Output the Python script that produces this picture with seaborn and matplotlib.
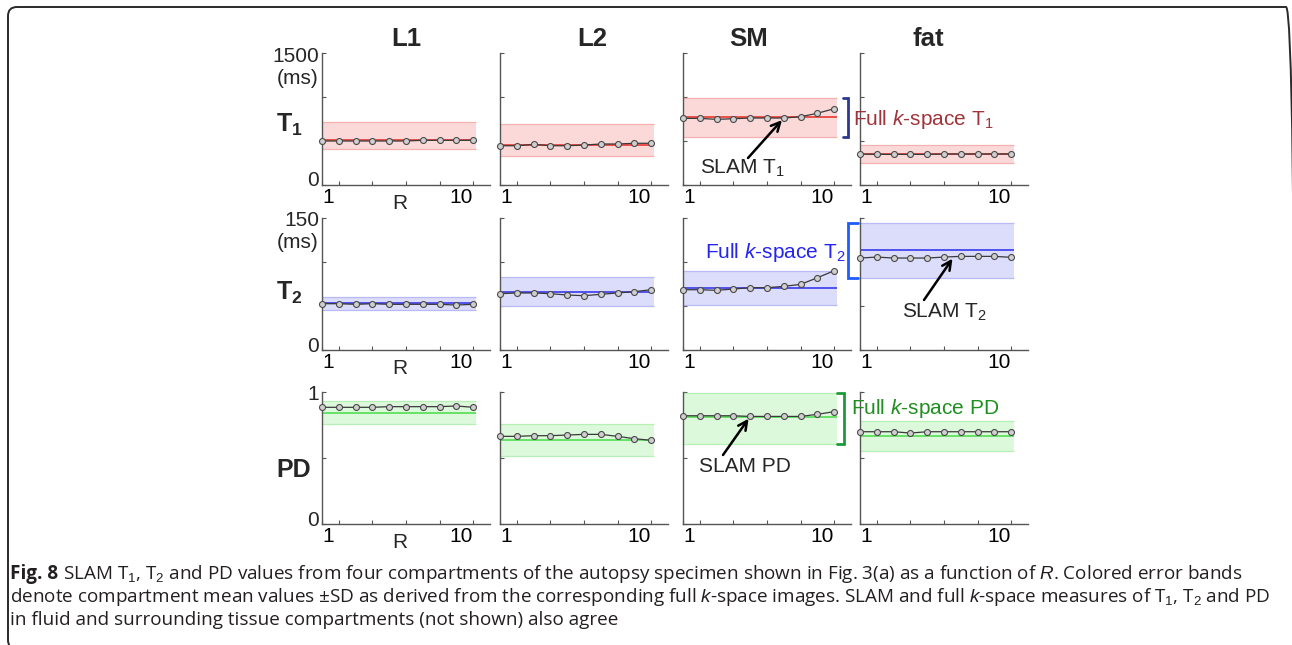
import matplotlib
matplotlib.use("Agg")
import matplotlib.pyplot as plt
import matplotlib.transforms as mtransforms
from matplotlib.lines import Line2D
from matplotlib.patches import FancyBboxPatch
import numpy as np
import pandas as pd
import seaborn as sns

# ---------------- data ----------------
compartments = ["L1", "L2", "SM", "fat"]
R = [1, 2, 3, 4, 5, 6, 7, 8, 9, 10]

# SLAM T1 (ms)
t1_L1 = [500, 500, 500, 500, 500, 500, 508, 508, 508, 508]
t1_L2 = [446, 446, 462, 446, 446, 454, 466, 466, 474, 474]
t1_SM = [757, 757, 746, 753, 761, 761, 761, 776, 815, 867]
t1_fat = [352, 348, 348, 348, 348, 352, 352, 352, 352, 352]
# full k-space T1: mean line and +-SD band edges (per compartment)
t1_full_mean = [508, 454, 769, 348]
t1_full_lo = [410, 329, 549, 246]
t1_full_hi = [715, 689, 985, 454]

# SLAM T2 (ms)
t2_L1 = [52.6, 52.6, 51.9, 52.6, 51.9, 51.9, 51.9, 51.9, 51.1, 51.9]
t2_L2 = [64.0, 64.8, 64.8, 64.0, 62.5, 61.7, 63.3, 64.8, 66.3, 68.5]
t2_SM = [68.5, 68.5, 67.8, 69.3, 70.8, 70.8, 72.3, 74.6, 82.1, 90.1]
t2_fat = [104.5, 105.6, 104.5, 104.5, 104.5, 105.6, 106.4, 106.4, 106.4, 105.3]
t2_full_mean = [53.4, 66.3, 70.8, 114.0]
t2_full_lo = [45.4, 50.0, 50.8, 82.1]
t2_full_hi = [60.6, 82.6, 90.1, 144.6]

# SLAM PD (a.u.)
pd_L1 = [0.884, 0.884, 0.884, 0.884, 0.889, 0.889, 0.889, 0.889, 0.894, 0.884]
pd_L2 = [0.664, 0.664, 0.669, 0.669, 0.674, 0.679, 0.679, 0.664, 0.646, 0.634]
pd_SM = [0.820, 0.820, 0.820, 0.820, 0.815, 0.815, 0.815, 0.815, 0.831, 0.851]
pd_fat = [0.699, 0.699, 0.699, 0.689, 0.699, 0.699, 0.699, 0.699, 0.699, 0.699]
pd_full_mean = [0.841, 0.636, 0.810, 0.669]
pd_full_lo = [0.755, 0.518, 0.606, 0.556]
pd_full_hi = [0.932, 0.755, 0.992, 0.782]

# ---------------- style ----------------
sns.set_theme(style="white")
plt.rcParams.update({
    "font.family": ["Liberation Sans", "DejaVu Sans"],
    "mathtext.fontset": "custom",
    "mathtext.rm": "Liberation Sans",
    "mathtext.it": "Liberation Sans:italic",
    "mathtext.bf": "Liberation Sans:bold",
})

W, H = 1292, 645
fig = plt.figure(figsize=(W / 100, H / 100), dpi=100)
fig.patch.set_facecolor("white")


def fx(x):
    return x / W


def fy(y):
    return 1 - y / H


col_left = [322, 500, 683, 860]
row_top = [53, 218, 392]
AW, AH = 168, 132
FS = 15

rows = [
    dict(series=[t1_L1, t1_L2, t1_SM, t1_fat], mean=t1_full_mean, lo=t1_full_lo,
         hi=t1_full_hi, ymax=1500, yticks=[0, 500, 1000, 1500], top="1500", unit=True,
         fill="#fbd9d9", edge="#f5b0b0", line="#e8453c"),
    dict(series=[t2_L1, t2_L2, t2_SM, t2_fat], mean=t2_full_mean, lo=t2_full_lo,
         hi=t2_full_hi, ymax=150, yticks=[0, 50, 100, 150], top="150", unit=True,
         fill="#dcdcfb", edge="#b9b9f6", line="#4646ee"),
    dict(series=[pd_L1, pd_L2, pd_SM, pd_fat], mean=pd_full_mean, lo=pd_full_lo,
         hi=pd_full_hi, ymax=1.0, yticks=[0, 0.5, 1.0], top="1", unit=False,
         fill="#dcf9dc", edge="#b5f0b5", line="#5ee05e"),
]

axes = {}
for r, row in enumerate(rows):
    for c, comp in enumerate(compartments):
        ax = fig.add_axes([fx(col_left[c]), fy(row_top[r] + AH), AW / W, AH / H])
        axes[(r, c)] = ax
        ax.set_xlim(1, 11)
        ax.set_ylim(0, row["ymax"])
        xb = [1, 10.15]
        ax.fill_between(xb, row["lo"][c], row["hi"][c], color=row["fill"], lw=0, zorder=1)
        ax.hlines([row["lo"][c], row["hi"][c]], xb[0], xb[1], color=row["edge"], lw=0.9, zorder=1.5)
        ax.hlines(row["mean"][c], xb[0], xb[1], color=row["line"], lw=1.3, zorder=2)
        df = pd.DataFrame({"R": R, "value": row["series"][c]})
        sns.lineplot(data=df, x="R", y="value", ax=ax, color="#3a3a3a", lw=0.9,
                     marker="o", markersize=4.3, markerfacecolor="#cfcfcf",
                     markeredgecolor="#4a4a4a", markeredgewidth=0.8, zorder=3)
        for ln in ax.lines:
            ln.set_clip_on(False)
        ax.set_xlabel("")
        ax.set_ylabel("")
        for s in ["top", "right"]:
            ax.spines[s].set_visible(False)
        for s in ["left", "bottom"]:
            ax.spines[s].set_color("#555555")
            ax.spines[s].set_linewidth(1.0)
        ax.set_facecolor("none")
        ax.set_xticks([1, 2, 4, 6, 8, 10])
        ax.set_xticklabels(["1", "", "", "", "", "10"])
        ax.set_yticks(row["yticks"])
        ax.set_yticklabels([])
        ax.tick_params(direction="in", length=3, width=0.8, color="#555555",
                       labelsize=FS, pad=2, labelcolor="black")
        ax.tick_params(axis="y", left=True)
        ax.tick_params(axis="x", bottom=True)
        tl = ax.get_xticklabels()
        tl[0].set_horizontalalignment("left")
        tl[-1].set_horizontalalignment("right")

    # y labels and R label for first column
    top = row_top[r]
    fig.text(fx(319), fy(top + 3), row["top"], ha="right", va="center", fontsize=FS)
    if row["unit"]:
        fig.text(fx(319), fy(top + 25), "(ms)", ha="right", va="center", fontsize=FS)
    fig.text(fx(319), fy(top + AH - 4), "0", ha="right", va="center", fontsize=FS)
    fig.text(fx(400), fy(top + AH + 19), "R", ha="center", va="center", fontsize=FS)

# column titles
for c, (comp, xc) in enumerate(zip(compartments, [406, 592, 749, 928])):
    fig.text(fx(xc), fy(39), comp, ha="center", va="center", fontsize=18.5, fontweight="bold")

# row labels
for lab, base in zip([r"$\mathbf{T_1}$", r"$\mathbf{T_2}$", "PD"], [132, 300, 477]):
    fig.text(fx(276), fy(base), lab, ha="left", va="baseline", fontsize=18, fontweight="bold")

# ---------------- annotations ----------------
def bracket(ax, xv, xh, y0, y1, color):
    tr = mtransforms.blended_transform_factory(fig.transFigure, ax.transData)
    ln = Line2D([fx(xh), fx(xv), fx(xv), fx(xh)], [y0, y0, y1, y1], transform=tr,
                color=color, lw=2.0, clip_on=False, solid_joinstyle="miter")
    fig.add_artist(ln)


ARROW = dict(arrowstyle="->", lw=1.8, color="black", shrinkA=0, shrinkB=2, mutation_scale=16)

# T1 (SM panel)
axT1 = axes[(0, 2)]
bracket(axT1, 848, 843, t1_full_lo[2], t1_full_hi[2], "#2b3990")
fig.text(fx(853), fy(125), r"Full $\mathit{k}$-space T$_1$", ha="left", va="baseline",
         fontsize=FS, color="#a0343a")
axT1.annotate("", xy=(7, t1_SM[6]), xycoords="data", xytext=(fx(748), fy(158)),
              textcoords="figure fraction", arrowprops=ARROW)
fig.text(fx(742), fy(168), r"SLAM T$_1$", ha="center", va="center", fontsize=FS)

# T2 (fat panel)
axT2 = axes[(1, 3)]
bracket(axT2, 848, 858, t2_full_lo[3], t2_full_hi[3], "#1f5cff")
fig.text(fx(705), fy(258), r"Full $\mathit{k}$-space T$_2$", ha="left", va="baseline",
         fontsize=FS, color="#2424f0")
axT2.annotate("", xy=(6.6, t2_fat[6]), xycoords="data", xytext=(fx(924), fy(300)),
              textcoords="figure fraction", arrowprops=ARROW)
fig.text(fx(944), fy(312), r"SLAM T$_2$", ha="center", va="center", fontsize=FS)

# PD (SM panel)
axPD = axes[(2, 2)]
bracket(axPD, 844, 837, pd_full_lo[2], pd_full_hi[2], "#1e9a3a")
fig.text(fx(851), fy(414), r"Full $\mathit{k}$-space PD", ha="left", va="baseline",
         fontsize=FS, color="#1f8f1f")
axPD.annotate("", xy=(5, pd_SM[4]), xycoords="data", xytext=(fx(723), fy(455)),
              textcoords="figure fraction", arrowprops=ARROW)
fig.text(fx(745), fy(466), "SLAM PD", ha="center", va="center", fontsize=FS)

# ---------------- caption ----------------
CAP = dict(fontsize=13.6, color="#231f20", family=["Open Sans", "DejaVu Sans"])
renderer = fig.canvas.get_renderer()
t0 = fig.text(fx(10), fy(579), "Fig. 8", ha="left", va="baseline", fontweight="bold", **CAP)
bb = t0.get_window_extent(renderer)
fig.text((bb.x1 + 5) / W, fy(579),
         r"SLAM T$_1$, T$_2$ and PD values from four compartments of the autopsy specimen "
         r"shown in Fig. 3(a) as a function of $\mathit{R}$. Colored error bands",
         ha="left", va="baseline", **CAP)
fig.text(fx(10), fy(602),
         r"denote compartment mean values ±SD as derived from the corresponding full "
         r"$\mathit{k}$-space images. SLAM and full $\mathit{k}$-space measures of T$_1$, T$_2$ and PD",
         ha="left", va="baseline", **CAP)
fig.text(fx(10), fy(625), "in fluid and surrounding tissue compartments (not shown) also agree",
         ha="left", va="baseline", **CAP)

# border
box = FancyBboxPatch((8, -4), 1287, H - 7 + 4, boxstyle="round,pad=0,rounding_size=9",
                     transform=mtransforms.IdentityTransform(), fill=False,
                     ec="#2a2a2a", lw=1.4)
fig.add_artist(box)

fig.savefig("out.png", dpi=100)
